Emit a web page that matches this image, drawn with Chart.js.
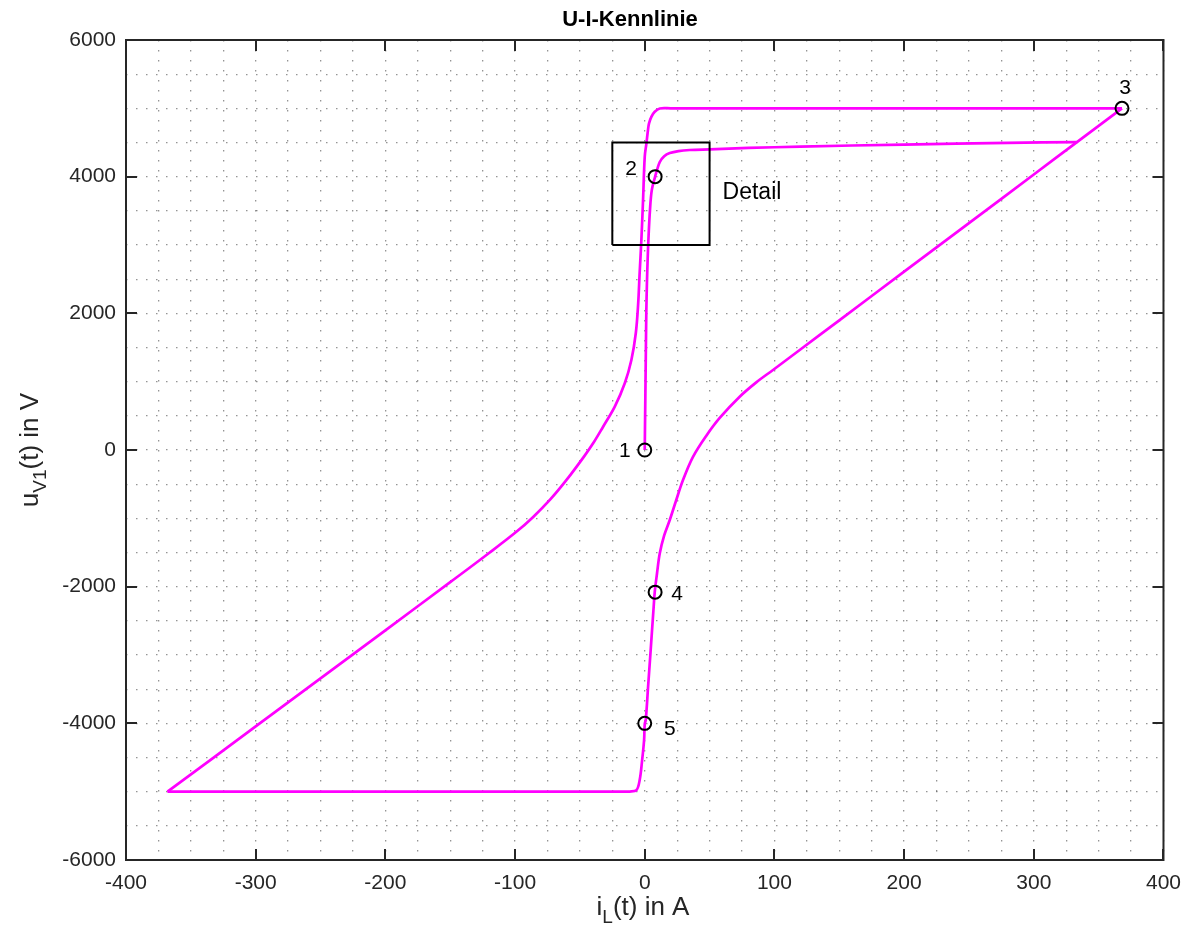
<!DOCTYPE html>
<html>
<head>
<meta charset="utf-8">
<title>U-I-Kennlinie</title>
<script src="https://cdn.jsdelivr.net/npm/chart.js@4.4.0/dist/chart.umd.min.js"></script>
<style>
  html, body { margin: 0; padding: 0; background: #fff; }
  #wrap { width: 1192px; height: 927px; }
</style>
</head>
<body>
<div id="wrap"><canvas id="kennlinie" width="1192" height="927"></canvas></div>
<script>
// Verlauf i_L / u_V1 in drei Abschnitten (zeitliche Reihenfolge)
// 1 -> 2 -> Knick
const riseI = [0, 0.3, 0.6, 0.9, 1.2, 1.7, 2.3, 3.0, 4.0, 5.4, 8, 11.6, 15, 19.3, 26, 34.7, 50, 80, 120, 200, 280, 333];
const riseU = [0, 500, 1000, 1500, 2000, 2450, 2820, 3150, 3500, 3800, 4000, 4215, 4300, 4346, 4375, 4390, 4400, 4420, 4440, 4470, 4495, 4505];

// 3 -> oben links -> linker Ast -> unten links
const fallI = [368, 200, 40, 20, 11.6, 7.7, 5.2, 3.3, 2.5, 1.3, 0, -1.3, -2.6, -3.9, -5.1, -6.9, -10.3, -15.4, -23.1, -32.1, -39.8,
    -47, -60, -73, -86, -99, -120, -150, -200, -250, -300, -368];
const fallU = [5000, 5000, 5000, 5000, 4998, 4951, 4878, 4781, 4683, 4488, 4292, 3659, 3073, 2600, 2130, 1708, 1317, 976, 634, 341, 98,
    -100, -430, -727, -979, -1197, -1507, -1934, -2639, -3342, -4045, -5000];

// unten links -> 5 -> 4 -> rechter Ast -> 3
const backI = [-368, -200, -40, -20, -11.6, -6.4, -3.9, -2, -0.5, 0, 0.8, 2.6, 4.4, 6.9, 7.7, 9.5, 11.6, 15, 19.3, 24, 29.5, 37.2,
    47.5, 57.8, 73.2, 86, 98.9, 120, 150, 200, 250, 300, 333, 368];
const backU = [-5000, -5000, -5000, -5000, -4998, -4978, -4829, -4537, -4244, -4010, -3950, -3460, -2975, -2290, -2080, -1800, -1512, -1250, -1024, -750, -440, -100,
    210, 470, 780, 990, 1171, 1471, 1898, 2610, 3320, 4032, 4502, 5000];

// markierte Zeitpunkte
const markerNames = ['1', '2', '3', '4', '5'];
const markerI = [0, 8, 368, 8, 0];
const markerU = [0, 4000, 5000, -2080, -4000];

// Rahmen des Detailausschnitts
const detailI = [-25, 50, 50, -25, -25];
const detailU = [3000, 3000, 4500, 4500, 3000];

// beschriftete Achsenwerte
const xTicks = [-400, -300, -200, -100, 0, 100, 200, 300, 400];
const yTicks = [-6000, -4000, -2000, 0, 2000, 4000, 6000];

const FONT = '"Liberation Sans", Arial, Helvetica, sans-serif';
const INK = '#262626';
const MAGENTA = '#ff00ff';

const toPoints = (xs, ys) => xs.map((x, i) => ({ x: x, y: ys[i] }));

const branch = (xs, ys) => ({
    data: toPoints(xs, ys),
    showLine: true,
    borderColor: MAGENTA,
    borderWidth: 2.7,
    pointRadius: 0,
    tension: 0.35,
    order: 2
});

// Text mit tiefgestellten Teilen, zentriert um (0,0)
function drawRich(ctx, parts, size) {
    const subSize = Math.round(size * 0.72);
    let total = 0;
    parts.forEach(p => {
        ctx.font = (p.sub ? subSize : size) + 'px ' + FONT;
        p.w = ctx.measureText(p.t).width;
        total += p.w;
    });
    let x = -total / 2;
    ctx.textAlign = 'left';
    ctx.textBaseline = 'alphabetic';
    parts.forEach(p => {
        ctx.font = (p.sub ? subSize : size) + 'px ' + FONT;
        ctx.fillText(p.t, x, p.sub ? size * 0.32 : 0);
        x += p.w;
    });
}

const frame = {
    id: 'frame',
    afterDraw(chart) {
        const { ctx, chartArea: a, scales } = chart;
        const xs = scales.x, ys = scales.y;
        ctx.save();

        // Achsenrahmen
        ctx.strokeStyle = INK;
        ctx.lineWidth = 2;
        ctx.strokeRect(a.left, a.top, a.right - a.left, a.bottom - a.top);

        // Teilstriche nach innen, alle vier Seiten
        const tl = 11;
        ctx.beginPath();
        xTicks.forEach(v => {
            const px = Math.round(xs.getPixelForValue(v));
            ctx.moveTo(px, a.bottom); ctx.lineTo(px, a.bottom - tl);
            ctx.moveTo(px, a.top); ctx.lineTo(px, a.top + tl);
        });
        yTicks.forEach(v => {
            const py = Math.round(ys.getPixelForValue(v));
            ctx.moveTo(a.left, py); ctx.lineTo(a.left + tl, py);
            ctx.moveTo(a.right, py); ctx.lineTo(a.right - tl, py);
        });
        ctx.stroke();

        // Titel
        ctx.fillStyle = '#000';
        ctx.font = 'bold 22px ' + FONT;
        ctx.textAlign = 'center';
        ctx.textBaseline = 'middle';
        ctx.fillText('U-I-Kennlinie', 630, 20);

        // Achsenbeschriftungen
        ctx.fillStyle = INK;
        ctx.save();
        ctx.translate(643, 915);
        drawRich(ctx, [{ t: 'i' }, { t: 'L', sub: true }, { t: '(t) in A' }], 26);
        ctx.restore();

        ctx.save();
        ctx.translate(38, 450);
        ctx.rotate(-Math.PI / 2);
        drawRich(ctx, [{ t: 'u' }, { t: 'V1', sub: true }, { t: '(t) in V' }], 26);
        ctx.restore();

        // Nummern an den Markierungen
        const offs = [[-20, 0], [-24, -8], [3, -21], [22, 1], [25, 5]];
        ctx.fillStyle = '#000';
        ctx.font = '21px ' + FONT;
        ctx.textAlign = 'center';
        ctx.textBaseline = 'middle';
        markerNames.forEach((n, i) => {
            const px = xs.getPixelForValue(markerI[i]);
            const py = ys.getPixelForValue(markerU[i]);
            ctx.fillText(n, px + offs[i][0], py + offs[i][1] + 1);
        });

        ctx.textAlign = 'left';
        ctx.font = '23px ' + FONT;
        ctx.fillText('Detail', xs.getPixelForValue(60), ys.getPixelForValue(3760));

        ctx.restore();
    }
};

const gridOpts = {
    color: 'rgba(60, 60, 60, 0.55)',
    lineWidth: 1.3,
    drawTicks: false
};

new Chart(document.getElementById('kennlinie'), {
    type: 'scatter',
    data: {
        datasets: [
            branch(riseI, riseU),
            branch(fallI, fallU),
            branch(backI, backU),
            {
                data: toPoints(detailI, detailU),
                showLine: true,
                borderColor: '#000',
                borderWidth: 2,
                pointRadius: 0,
                tension: 0,
                order: 1
            },
            {
                data: toPoints(markerI, markerU),
                showLine: false,
                pointStyle: 'circle',
                pointRadius: 6.5,
                pointBorderWidth: 2,
                borderColor: '#000',
                backgroundColor: 'rgba(0,0,0,0)',
                order: 0
            }
        ]
    },
    options: {
        responsive: false,
        animation: false,
        devicePixelRatio: 1,
        layout: { padding: { top: 40, right: 28, left: 0, bottom: 0 } },
        plugins: {
            legend: { display: false },
            tooltip: { enabled: false }
        },
        scales: {
            x: {
                type: 'linear',
                min: -400,
                max: 400,
                grid: gridOpts,
                border: { display: false, dash: [1.5, 8.5] },
                afterFit: s => { s.height = 67; },
                ticks: {
                    stepSize: 25,
                    maxTicksLimit: 100,
                    autoSkip: false,
                    maxRotation: 0,
                    padding: 11,
                    color: INK,
                    font: { family: FONT, size: 21 },
                    callback: v => xTicks.includes(v) ? String(v) : ''
                }
            },
            y: {
                type: 'linear',
                min: -6000,
                max: 6000,
                grid: gridOpts,
                border: { display: false, dash: [1.5, 8.5] },
                afterFit: s => { s.width = 126; },
                ticks: {
                    stepSize: 500,
                    maxTicksLimit: 100,
                    autoSkip: false,
                    padding: 10,
                    color: INK,
                    font: { family: FONT, size: 21 },
                    callback: v => yTicks.includes(v) ? String(v) : ''
                }
            }
        }
    },
    plugins: [frame]
});
</script>
</body>
</html>
